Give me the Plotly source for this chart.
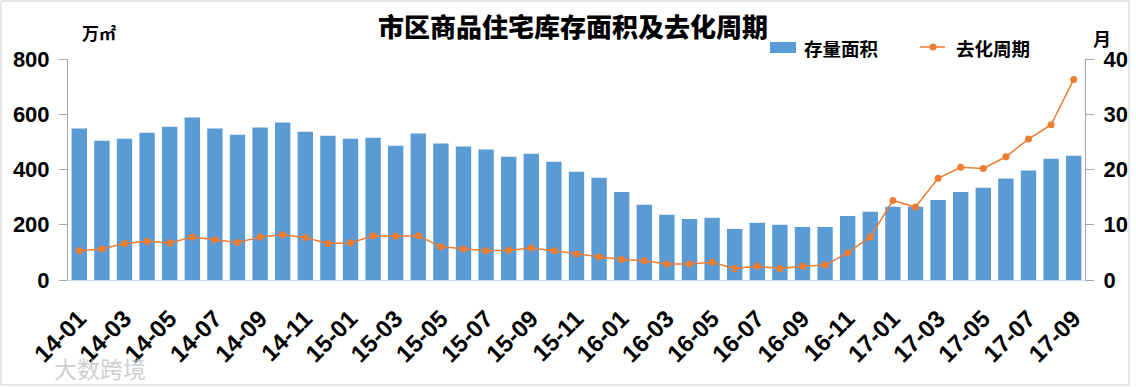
import plotly.graph_objects as go

months = [f"{y}-{m:02d}" for y in (14, 15, 16) for m in range(1, 13)] + [f"17-{m:02d}" for m in range(1, 10)]

stock_area = [548, 504, 511, 533, 555, 588, 548, 526, 552, 570, 537, 522, 511, 515, 486,
              530, 494, 483, 472, 446, 457, 428, 392, 370, 319, 272, 236, 221, 225, 185,
              207, 200, 192, 192, 232, 247, 265, 265, 290, 319, 334, 367, 396, 439, 450]

cycle_months = [5.3, 5.6, 6.6, 7.0, 6.7, 7.8, 7.3, 6.8, 7.8, 8.2, 7.7, 6.6, 6.7, 8.0, 7.9,
                8.0, 6.0, 5.6, 5.3, 5.4, 5.8, 5.3, 4.7, 4.2, 3.7, 3.5, 2.9, 2.9, 3.2, 2.1,
                2.5, 2.1, 2.5, 2.7, 4.9, 7.8, 14.4, 13.2, 18.4, 20.4, 20.2, 22.3, 25.5, 28.1, 36.3]

tick_labels = months[::2]
left_ticks = [0, 200, 400, 600, 800]
right_ticks = [0, 10, 20, 30, 40]
series_names = ["存量面积", "去化周期"]

BAR_COLOR = "#5B9BD5"
LINE_COLOR = "#ED7D31"

W, H = 1136, 387
L, R, T, B = 68, 51, 59, 107
pw, ph = W - L - R, H - T - B

def px(x):
    return (x - L) / pw

def py(y):
    return (H - B - y) / ph

num_font = "Liberation Sans, Noto Sans CJK SC, sans-serif"
cjk_font = "Noto Sans CJK SC, sans-serif"

fig = go.Figure()
fig.add_trace(go.Bar(
    x=months, y=stock_area, name=series_names[0],
    marker=dict(color=BAR_COLOR, line=dict(width=0)),
    yaxis="y",
))
fig.add_trace(go.Scatter(
    x=months, y=cycle_months, name=series_names[1], mode="lines+markers",
    line=dict(color=LINE_COLOR, width=1.5),
    marker=dict(color=LINE_COLOR, size=7),
    yaxis="y2",
))

legend_font = dict(family=cjk_font, size=18.5, color="black", weight=700)

fig.update_layout(
    width=W, height=H,
    margin=dict(l=L, r=R, t=T, b=B, pad=0, autoexpand=False),
    paper_bgcolor="white", plot_bgcolor="white",
    bargap=0.32,
    showlegend=False,
    title=dict(text="市区商品住宅库存面积及去化周期", xref="container", x=573 / W,
               y=1 - 28 / H, xanchor="center", yanchor="middle",
               font=dict(family=cjk_font, size=26, color="black", weight=900)),
    xaxis=dict(
        type="category", range=[-0.5, len(months) - 0.5],
        tickmode="array", tickvals=tick_labels, ticktext=tick_labels,
        tickangle=-45, ticks="", showgrid=False, automargin=False,
        showline=True, linecolor="#C9DCF0", linewidth=1,
        ticklabelstandoff=14,
        tickfont=dict(family=num_font, size=24, color="black", weight=700),
    ),
    yaxis=dict(
        range=[0, 800], tickvals=left_ticks, showgrid=False, zeroline=False,
        showline=True, linecolor="#A6A6A6", linewidth=1, automargin=False,
        ticks="outside", ticklen=8, tickcolor="#A6A6A6",
        ticklabelstandoff=5,
        tickfont=dict(family=num_font, size=22, color="black", weight=700),
    ),
    yaxis2=dict(
        range=[0, 40], tickvals=right_ticks, overlaying="y", side="right",
        showgrid=False, zeroline=False, automargin=False,
        showline=True, linecolor="#A6A6A6", linewidth=1,
        ticks="outside", ticklen=8, tickcolor="#A6A6A6",
        ticklabelstandoff=5,
        tickfont=dict(family=num_font, size=22, color="black", weight=700),
    ),
    annotations=[
        dict(text="万㎡", xref="paper", yref="paper", x=px(99), y=py(33),
             showarrow=False, xanchor="center", yanchor="middle",
             font=dict(family=cjk_font, size=17, color="black", weight=700)),
        dict(text="月", xref="paper", yref="paper", x=px(1102), y=py(38),
             showarrow=False, xanchor="center", yanchor="middle",
             font=dict(family=cjk_font, size=18, color="black", weight=700)),
        dict(text=series_names[0], xref="paper", yref="paper", x=px(802), y=py(48),
             showarrow=False, xanchor="left", yanchor="middle", font=legend_font),
        dict(text=series_names[1], xref="paper", yref="paper", x=px(954), y=py(48),
             showarrow=False, xanchor="left", yanchor="middle", font=legend_font),
        dict(text="大数跨境", xref="paper", yref="paper", x=px(100), y=py(368),
             showarrow=False, xanchor="center", yanchor="middle",
             font=dict(family=cjk_font, size=23, color="rgba(190,190,190,0.75)")),
    ],
    shapes=[
        dict(type="rect", xref="paper", yref="paper",
             x0=px(770), x1=px(796), y0=py(53), y1=py(42),
             line=dict(width=0), fillcolor=BAR_COLOR),
        dict(type="line", xref="paper", yref="paper",
             x0=px(920), x1=px(945), y0=py(47), y1=py(47),
             line=dict(color=LINE_COLOR, width=1.5)),
        dict(type="circle", xref="paper", yref="paper",
             xsizemode="pixel", ysizemode="pixel",
             xanchor=px(933), yanchor=py(47), x0=-3.5, x1=3.5, y0=-3.5, y1=3.5,
             line=dict(width=0), fillcolor=LINE_COLOR),
        dict(type="rect", xref="paper", yref="paper",
             x0=px(1), x1=px(1129), y0=py(385), y1=py(1),
             line=dict(color="#D0D0D0", width=1), fillcolor="rgba(0,0,0,0)", layer="below"),
    ],
)

fig.write_html("out.html", config={"displayModeBar": False},
               post_script="document.body.style.margin='0';")
